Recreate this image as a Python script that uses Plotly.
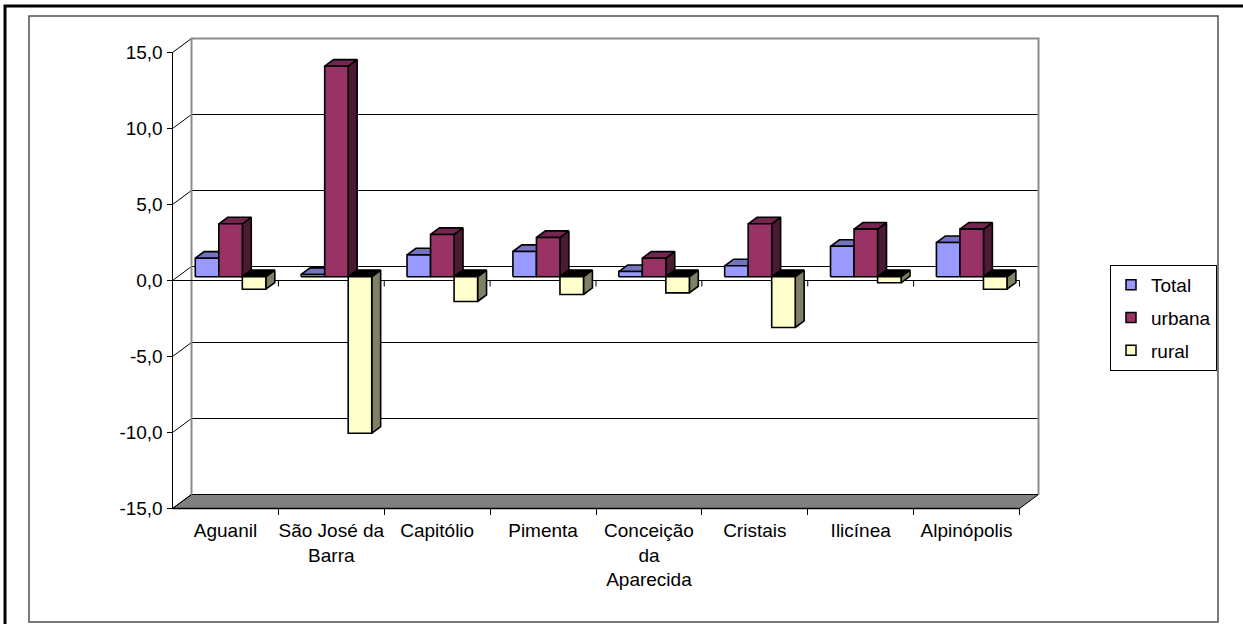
import plotly.graph_objects as go

# ---------------- data ----------------
categories = ["Aguanil", "São José da<br>Barra", "Capitólio", "Pimenta",
              "Conceição<br>da<br>Aparecida", "Cristais", "Ilicínea", "Alpinópolis"]
series_names = ["Total", "urbana", "rural"]
total = [1.22, 0.15, 1.44, 1.66, 0.34, 0.72, 2.00, 2.25]
urbana = [3.48, 13.85, 2.78, 2.58, 1.22, 3.48, 3.13, 3.13]
rural = [-0.82, -10.30, -1.63, -1.17, -1.06, -3.34, -0.40, -0.82]
y_tick_values = [-15, -10, -5, 0, 5, 10, 15]
y_tick_labels = ["-15,0", "-10,0", "-5,0", "0,0", "5,0", "10,0", "15,0"]

# ---------------- style ----------------
front_colors = ["#9999FF", "#993366", "#FFFFCC"]
top_colors = ["#7373BF", "#732650", "#BFBF99"]
side_colors = ["#4D4D80", "#4D1A33", "#808066"]
neg_top_color = "#000000"
FONT = "Liberation Sans, Arial, sans-serif"
FS = 19

W, H = 1243, 624
# pixel geometry of the front plane
AX_X0 = 172.5          # front value axis x (px)
CAT_PX = 105.875       # px per category
ZERO_Y = 280.5         # px of value 0 on front plane
VAL_PX = 15.2          # px per unit
# plot area (px)
PA_L, PA_R, PA_T, PA_B = 150, 1062, 28, 522

xr0 = (PA_L - AX_X0) / CAT_PX - 0.5
xr1 = (PA_R - AX_X0) / CAT_PX - 0.5
yr0 = (ZERO_Y - PA_B) / VAL_PX
yr1 = (ZERO_Y - PA_T) / VAL_PX

WALL_DX = 19.0 / CAT_PX
WALL_DY = 14.0 / VAL_PX
T0, T1 = 0.27, 0.74
BW = 2.0 / 9.0
VMIN, VMAX = y_tick_values[0], y_tick_values[-1]
ncat = len(categories)

fig = go.Figure()


def line_trace(xs, ys, color, width):
    fig.add_trace(go.Scatter(x=xs, y=ys, mode="lines", line=dict(color=color, width=width),
                             hoverinfo="skip", showlegend=False))


def poly(xs, ys, fill, lw=1.6):
    fig.add_trace(go.Scatter(x=xs + [xs[0]], y=ys + [ys[0]], mode="lines", fill="toself",
                             fillcolor=fill, line=dict(color="black", width=lw),
                             hoverinfo="skip", showlegend=False))


xl_f, xr_f = -0.5, ncat - 0.5
xl_b, xr_b = xl_f + WALL_DX, xr_f + WALL_DX

# floor
poly([xl_f, xr_f, xr_b, xl_b], [VMIN, VMIN, VMIN + WALL_DY, VMIN + WALL_DY], "#808080", 1)

# back-wall gridlines
gx, gy = [], []
for v in y_tick_values[1:-1]:
    gx += [xl_b, xr_b, None]
    gy += [v + WALL_DY, v + WALL_DY, None]
line_trace(gx, gy, "black", 1)

# slanted lines from front axis ticks to back wall
sx, sy = [], []
for v in y_tick_values:
    sx += [xl_f, xl_b, None]
    sy += [v, v + WALL_DY, None]
line_trace(sx, sy, "black", 1)

# back wall border (gray)
line_trace([xl_b, xl_b, xr_b, xr_b],
           [VMIN + WALL_DY, VMAX + WALL_DY, VMAX + WALL_DY, VMIN + WALL_DY], "#8C8C8C", 2)

# front value axis
line_trace([xl_f, xl_f], [VMIN, VMAX], "black", 1)
# front zero line + ticks
line_trace([xl_f, xr_f], [0, 0], "black", 1)
zx, zy = [], []
for i in range(ncat):
    zx += [i + 0.5, i + 0.5, None]
    zy += [0, -6 / VAL_PX, None]
line_trace(zx, zy, "black", 1)
# front bottom edge
line_trace([xl_f, xr_f], [VMIN, VMIN], "black", 1.5)

# bars
ddx = (T1 - T0) * WALL_DX
ddy = (T1 - T0) * WALL_DY
base = T0 * WALL_DY
series = [total, urbana, rural]
for i in range(ncat):
    for k, vals in enumerate(series):
        v = vals[i]
        xl = i - 1.0 / 3.0 + k * BW + T0 * WALL_DX
        xr = xl + BW
        b, t = base, base + v
        if v >= 0:
            poly([xr, xr, xr + ddx, xr + ddx], [b, t, t + ddy, b + ddy], side_colors[k])
            poly([xl, xr, xr + ddx, xl + ddx], [t, t, t + ddy, t + ddy], top_colors[k])
        else:
            poly([xr, xr, xr + ddx, xr + ddx], [t, b, b + ddy, t + ddy], side_colors[k])
            poly([xl, xr, xr + ddx, xl + ddx], [b, b, b + ddy, b + ddy], neg_top_color)
        poly([xl, xr, xr, xl], [b, b, t, t], front_colors[k])

# legend entries
for k, name in enumerate(series_names):
    fig.add_trace(go.Scatter(x=[None], y=[None], mode="markers", name=name,
                             legendgroup=name,
                             marker=dict(symbol="square", size=10, color=front_colors[k],
                                         line=dict(color="black", width=1.5))))

fig.update_layout(
    width=W, height=H, autosize=False,
    margin=dict(l=0, r=0, t=0, b=0, pad=0),
    paper_bgcolor="white", plot_bgcolor="rgba(0,0,0,0)",
    font=dict(family=FONT, size=FS, color="black"),
    showlegend=True,
    legend=dict(x=1110 / W, y=1 - 265 / H, xanchor="left", yanchor="top",
                bordercolor="black", borderwidth=1, bgcolor="white",
                font=dict(family=FONT, size=FS), tracegroupgap=5,
                traceorder="grouped"),
    xaxis=dict(domain=[PA_L / W, PA_R / W], range=[xr0, xr1], anchor="free",
               position=1 - 508 / H, showgrid=False, zeroline=False, showline=False,
               tickmode="array", tickvals=list(range(ncat)), ticktext=categories,
               ticks="", tickfont=dict(family=FONT, size=FS), tickangle=0,
               ticklabelstandoff=9,
               minor=dict(tickmode="array", tickvals=[i + 0.5 for i in range(ncat)],
                          ticks="outside", ticklen=6, tickcolor="black", tickwidth=1,
                          showgrid=False),
               automargin=False, fixedrange=True),
    yaxis=dict(domain=[1 - PA_B / H, 1 - PA_T / H], range=[yr0, yr1], anchor="free",
               position=AX_X0 / W, showgrid=False, zeroline=False, showline=False,
               tickmode="array", tickvals=y_tick_values, ticktext=y_tick_labels,
               ticks="outside", ticklen=6, tickcolor="black", tickwidth=1,
               tickfont=dict(family=FONT, size=FS), automargin=False, fixedrange=True),
    shapes=[
        dict(type="rect", xref="paper", yref="paper", x0=5 / W, x1=1260 / W,
             y0=-20 / H, y1=1 - 6 / H, line=dict(color="black", width=3)),
        dict(type="rect", xref="paper", yref="paper", x0=29 / W, x1=1218 / W,
             y0=1 - 622 / H, y1=1 - 16 / H, line=dict(color="#505050", width=1.5)),
    ],
)

fig.write_html("out.html", config={"displayModeBar": False},
               post_script="document.body.style.margin='0px';document.body.style.overflow='hidden';")
